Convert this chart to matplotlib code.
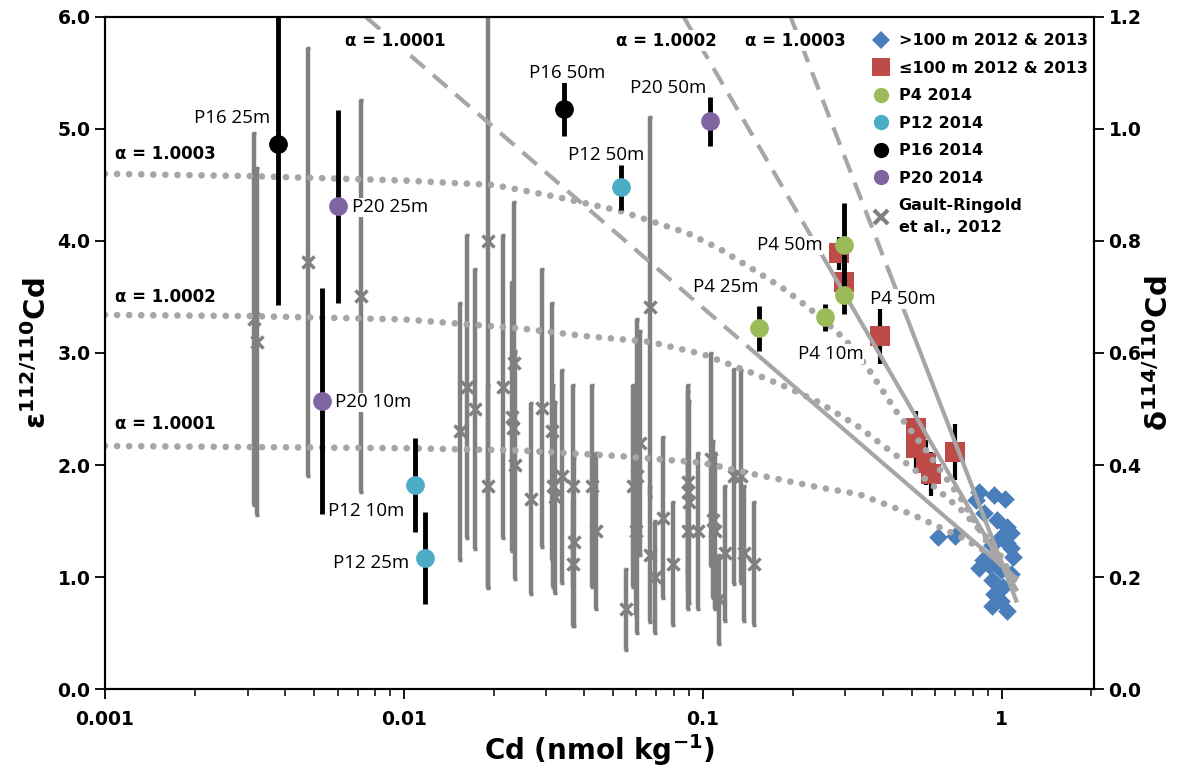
import numpy as np
import matplotlib
matplotlib.use("Agg")
import matplotlib.pyplot as plt
from matplotlib.lines import Line2D

# ---- data ----
# Gault-Ringold et al., 2012 (x = Cd, y = eps, e = error)
gr_x = [0.00315, 0.00322, 0.00479, 0.00721, 0.01545, 0.0163, 0.01734, 0.0191, 0.0192,
        0.02145, 0.0233, 0.02297, 0.0232, 0.0235, 0.0267, 0.0291, 0.0312, 0.0316, 0.0320,
        0.0337, 0.0369, 0.0370, 0.0367, 0.0425, 0.0440, 0.0555, 0.0583, 0.0605, 0.0615,
        0.0600, 0.0664, 0.0664, 0.0694, 0.0735, 0.0794, 0.0891, 0.0895, 0.0900, 0.0893,
        0.0962, 0.1067, 0.108, 0.110, 0.1137, 0.119, 0.1276, 0.134, 0.137, 0.149]
gr_y = [3.30, 3.10, 3.81, 3.51, 2.30, 2.70, 2.50, 4.00, 1.81,
        2.70, 2.91, 2.43, 2.33, 2.00, 1.70, 2.51, 2.30, 1.81, 1.71,
        1.90, 1.81, 1.31, 1.12, 1.81, 1.41, 0.71, 1.81, 1.90, 2.20,
        1.41, 3.41, 1.20, 1.00, 1.53, 1.12, 1.85, 1.76, 1.67, 1.41,
        1.41, 2.05, 1.51, 1.41, 0.80, 1.21, 1.90, 1.90, 1.21, 1.12]
gr_e = [1.66, 1.55, 1.91, 1.75, 1.15, 1.35, 1.25, 3.10, 0.90,
        1.35, 1.44, 1.20, 1.00, 1.02, 0.85, 1.24, 1.15, 0.90, 0.85,
        0.95, 0.90, 0.75, 0.56, 0.90, 0.70, 0.36, 0.90, 1.40, 1.00,
        0.75, 1.70, 0.60, 0.50, 0.72, 0.55, 0.86, 0.90, 0.90, 0.70,
        0.70, 0.95, 0.70, 0.70, 0.40, 0.60, 0.96, 0.95, 0.60, 0.55]

# >100 m 2012 & 2013
deep_x = [0.612, 0.70, 0.844, 0.947, 1.024, 0.82, 0.877, 0.965, 1.04, 1.077, 0.995, 0.93,
          1.04, 1.09, 0.865, 0.91, 0.844, 0.995, 1.077, 0.93, 1.01, 0.947, 0.995, 0.93,
          1.04, 1.077]
deep_y = [1.36, 1.37, 1.76, 1.73, 1.70, 1.69, 1.57, 1.51, 1.45, 1.39, 1.36, 1.29,
          1.30, 1.18, 1.15, 1.11, 1.08, 1.06, 1.03, 0.97, 0.91, 0.85, 0.79, 0.74,
          0.70, 1.26]

# <=100 m 2012 & 2013
shal_x = [0.286, 0.297, 0.391, 0.519, 0.519, 0.560, 0.582, 0.697]
shal_y = [3.89, 3.63, 3.15, 2.33, 2.15, 2.02, 1.92, 2.12]
shal_e = [0.15, 0.20, 0.25, 0.15, 0.20, 0.20, 0.20, 0.25]

# 2014 stations
p4_x = [0.154, 0.256, 0.297, 0.296]
p4_y = [3.22, 3.32, 3.96, 3.52]
p4_e = [0.20, 0.12, 0.38, 0.17]
p12_x = [0.01094, 0.01175, 0.0533]
p12_y = [1.82, 1.17, 4.48]
p12_e = [0.42, 0.41, 0.20]
p16_x = [0.0038, 0.0343]
p16_y = [4.87, 5.18]
p16_e = [1.44, 0.24]
p20_x = [0.00532, 0.00604, 0.1055]
p20_y = [2.57, 4.31, 5.07]
p20_e = [1.01, 0.86, 0.22]

# closed system curves (dotted)
cl_03_x = [0.001, 0.003, 0.01, 0.02, 0.0316, 0.0527, 0.089, 0.114, 0.155, 0.19, 0.245,
           0.30, 0.354, 0.444, 0.57, 0.74, 0.89, 1.0, 1.1]
cl_03_y = [4.60, 4.58, 4.54, 4.50, 4.40, 4.27, 4.07, 3.93, 3.71, 3.56, 3.33,
           3.12, 2.88, 2.48, 2.10, 1.68, 1.32, 1.13, 0.97]
cl_02_x = [0.001, 0.003, 0.01, 0.0245, 0.0408, 0.0664, 0.1, 0.147, 0.189, 0.245, 0.333,
           0.5, 0.74, 0.96, 1.1]
cl_02_y = [3.34, 3.33, 3.30, 3.22, 3.15, 3.10, 2.99, 2.82, 2.70, 2.56, 2.34,
           1.98, 1.59, 1.26, 0.97]
cl_01_x = [0.001, 0.01, 0.0245, 0.0527, 0.1, 0.147, 0.245, 0.333, 0.5, 0.74, 0.96, 1.1]
cl_01_y = [2.17, 2.15, 2.13, 2.08, 2.02, 1.92, 1.80, 1.74, 1.56, 1.35, 1.17, 0.97]

# Rayleigh lines: from top of plot to end point, dashed part turns solid
ray_x_top = [0.00746, 0.0864, 0.197]
ray_y_top = [6.0, 6.0, 6.0]
ray_x_end = [1.12, 1.12, 1.12]
ray_y_end = [0.99, 0.89, 0.79]
ray_x_solid = [0.15, 0.24, 0.42]
alpha_labels = ["α = 1.0001", "α = 1.0002", "α = 1.0003"]

# point labels
pt_labels = ["P16 25m", "P20 25m", "P20 10m", "P12 10m", "P12 25m", "P16 50m",
             "P20 50m", "P12 50m", "P4 25m", "P4 50m", "P4 10m", "P4 50m"]
pt_lab_x = [0.00356, 0.0067, 0.00588, 0.00557, 0.00579, 0.0262,
            0.057, 0.0354, 0.0926, 0.1517, 0.208, 0.362]
pt_lab_y = [5.10, 4.30, 2.56, 1.59, 1.125, 5.50,
            5.37, 4.77, 3.59, 3.96, 2.99, 3.48]
pt_lab_ha = ["right"] + ["left"] * 11

c_blue = "#4a7ebb"
c_red = "#be4b48"
c_green = "#9bbb59"
c_cyan = "#4bacc6"
c_purple = "#8064a2"
c_gray = "#808080"
c_line = "#a6a6a6"

fig = plt.figure(figsize=(12, 7.72), dpi=100)
ax = fig.add_axes([0.0875, 0.1075, 0.8242, 0.8705])

# Gault-Ringold bars
ax.errorbar(gr_x, gr_y, yerr=gr_e, fmt="x", color=c_gray, ecolor=c_gray,
            elinewidth=3.2, capsize=1.5, capthick=2, ms=9, mew=2.5, zorder=2)

# model lines
for xt, yt, xe, ye, xs in zip(ray_x_top, ray_y_top, ray_x_end, ray_y_end, ray_x_solid):
    lx = np.log10([xt, xe])
    ys = np.interp(np.log10(xs), lx, [yt, ye])
    ax.plot([xt, xs], [yt, ys], color=c_line, lw=3, ls=(0, (4.5, 2.6)), zorder=4)
    ax.plot([xs, xe], [ys, ye], color=c_line, lw=3, zorder=4)
for cx, cy in [(cl_01_x, cl_01_y), (cl_02_x, cl_02_y), (cl_03_x, cl_03_y)]:
    ax.plot(cx, cy, color=c_line, lw=4.8, ls=(0, (0.01, 1.8)),
            dash_capstyle="round", zorder=4)

# data points
ax.scatter(deep_x, deep_y, marker="D", s=90, color=c_blue, zorder=3, lw=0)
ax.errorbar(shal_x, shal_y, yerr=shal_e, fmt="none", ecolor="black", elinewidth=3, zorder=3)
ax.scatter(shal_x, shal_y, marker="s", s=200, color=c_red, zorder=3.5, lw=0)
for xs_, ys_, es_, col in [(p4_x, p4_y, p4_e, c_green), (p12_x, p12_y, p12_e, c_cyan),
                           (p16_x, p16_y, p16_e, "black"), (p20_x, p20_y, p20_e, c_purple)]:
    ax.errorbar(xs_, ys_, yerr=es_, fmt="o", color=col, ecolor="black", elinewidth=3.5,
                ms=13.5, mew=0, zorder=5)

# labels
lab_font = dict(family=["Open Sans", "DejaVu Sans"], size=13.5)
for t, lx, ly, ha in zip(pt_labels, pt_lab_x, pt_lab_y, pt_lab_ha):
    ax.text(lx, ly, t, ha=ha, va="center", zorder=6,
            bbox=dict(fc="white", ec="none", pad=0.5), **lab_font)

a_font = dict(family="DejaVu Sans", weight="bold", size=12)
for t, lx in zip(alpha_labels, [0.0094, 0.0757, 0.205]):
    ax.text(lx, 5.79, t, ha="center", va="center", zorder=6,
            bbox=dict(fc="white", ec="none", pad=1), **a_font)
for t, ly in zip(alpha_labels, [2.37, 3.50, 4.78]):
    ax.text(0.00108, ly, t, ha="left", va="center", zorder=6, **a_font)

# axes
ax.set_xscale("log")
ax.set_xlim(0.001, 2.04)
ax.set_ylim(0, 6)
ax.set_yticks(np.arange(0, 6.01, 1.0))
ax.set_yticklabels([f"{v:.1f}" for v in np.arange(0, 6.01, 1.0)])
ax.set_xticks([0.001, 0.01, 0.1, 1])
ax.set_xticklabels(["0.001", "0.01", "0.1", "1"])
for s in ax.spines.values():
    s.set_linewidth(1.5)
ax.tick_params(axis="y", direction="out", length=7, width=1.3, labelsize=13.5)
ax.tick_params(axis="x", which="major", direction="out", length=7, width=1.3,
               labelsize=13.5, pad=8)
ax.tick_params(axis="x", which="minor", direction="out", length=5, width=1.1)
for lab in ax.get_yticklabels():
    lab.set_fontweight("bold")
for lab in ax.get_xticklabels():
    lab.set_fontweight("bold")

ax2 = ax.twinx()
ax2.set_ylim(0, 1.2)
ax2.set_yticks(np.arange(0, 1.21, 0.2))
ax2.set_yticklabels([f"{v:.1f}" for v in np.arange(0, 1.21, 0.2)])
ax2.tick_params(axis="y", direction="out", length=7, width=1.3, labelsize=13.5)
for lab in ax2.get_yticklabels():
    lab.set_fontweight("bold")
for s in ax2.spines.values():
    s.set_linewidth(1.5)

ax.set_xlabel(r"Cd (nmol kg$^{\mathbf{-1}}$)", fontsize=20, fontweight="bold", labelpad=2)
ax.set_ylabel(r"ε$^{\mathbf{112/110}}$Cd", fontsize=21, fontweight="bold", labelpad=4)
ax2.set_ylabel(r"δ$^{\mathbf{114/110}}$Cd", fontsize=21, fontweight="bold", labelpad=2)

# legend
handles = [
    Line2D([], [], ls="none", marker="D", ms=9, color=c_blue, mew=0),
    Line2D([], [], ls="none", marker="s", ms=13, color=c_red, mew=0),
    Line2D([], [], ls="none", marker="o", ms=11, color=c_green, mew=0),
    Line2D([], [], ls="none", marker="o", ms=11, color=c_cyan, mew=0),
    Line2D([], [], ls="none", marker="o", ms=11, color="black", mew=0),
    Line2D([], [], ls="none", marker="o", ms=11, color=c_purple, mew=0),
    Line2D([], [], ls="none", marker="x", ms=10, color=c_gray, mew=3),
]
names = [">100 m 2012 & 2013", "≤100 m 2012 & 2013", "P4 2014", "P12 2014",
         "P16 2014", "P20 2014", "Gault-Ringold\net al., 2012"]
leg = ax.legend(handles, names, loc="upper left", bbox_to_anchor=(0.77, 0.985),
                frameon=False, handlelength=1.0, handletextpad=0.6, labelspacing=0.78,
                borderaxespad=0, prop=dict(family="DejaVu Sans", weight="bold", size=11.5))
for txt in leg.get_texts():
    txt.set_linespacing(1.6)
leg.set_zorder(7)

fig.savefig("out.png", dpi=100)
